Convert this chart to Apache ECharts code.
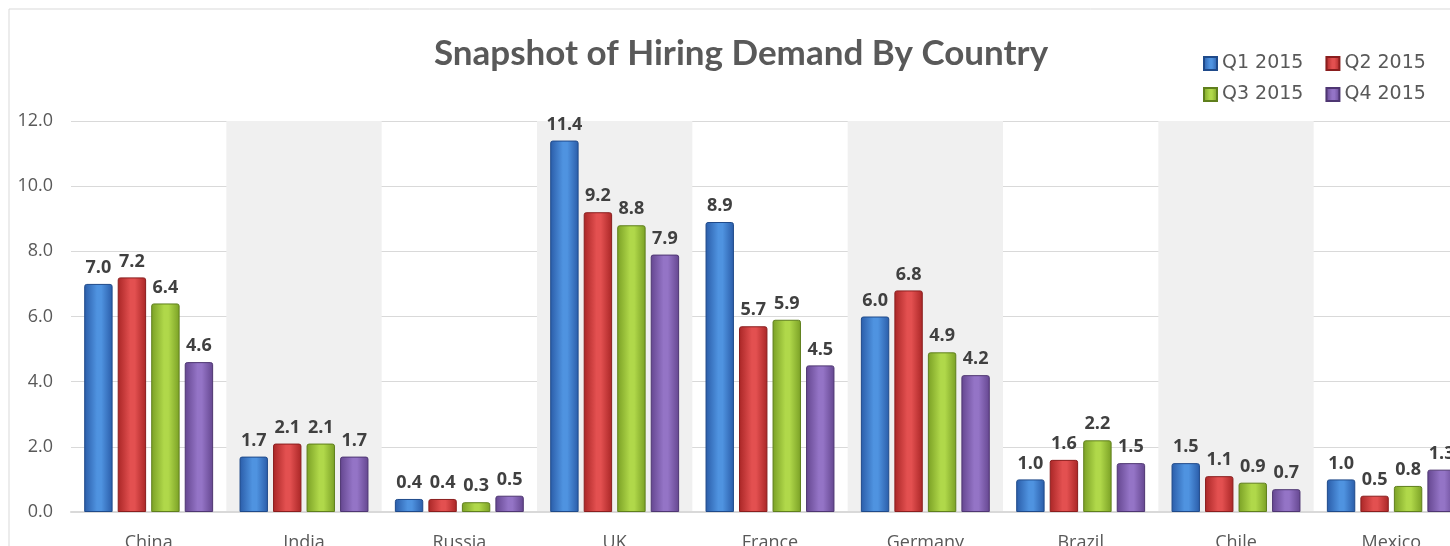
<!DOCTYPE html>
<html>
<head>
<meta charset="utf-8">
<script src="https://cdn.jsdelivr.net/npm/echarts@6/dist/echarts.min.js"></script>
<style>
html, body { margin: 0; padding: 0; background: #fff; }
#chart { width: 1450px; height: 546px; }
</style>
</head>
<body>
<div id="chart"></div>
<script>
var countries = ['China', 'India', 'Russia', 'UK', 'France', 'Germany', 'Brazil', 'Chile', 'Mexico'];
var q1 = [7.0, 1.7, 0.4, 11.4, 8.9, 6.0, 1.0, 1.5, 1.0];
var q2 = [7.2, 2.1, 0.4, 9.2, 5.7, 6.8, 1.6, 1.1, 0.5];
var q3 = [6.4, 2.1, 0.3, 8.8, 5.9, 4.9, 2.2, 0.9, 0.8];
var q4 = [4.6, 1.7, 0.5, 7.9, 4.5, 4.2, 1.5, 0.7, 1.3];
var seriesNames = ['Q1 2015', 'Q2 2015', 'Q3 2015', 'Q4 2015'];

var myChart = echarts.init(document.getElementById('chart'));

// edge / center / border colours for the bevelled bar look
var shades = [
	['#2a5ca8', '#4f93e0', '#1f4a8a'],
	['#a92626', '#e35050', '#8a1e1e'],
	['#7aa025', '#b0d84a', '#5f7f1c'],
	['#64468f', '#9474c6', '#4e3672']
];

function barColor(s) {
	return {
		type: 'linear', x: 0, y: 0, x2: 1, y2: 0,
		colorStops: [
			{offset: 0, color: s[0]},
			{offset: 0.45, color: s[1]},
			{offset: 0.6, color: s[1]},
			{offset: 1, color: s[0]}
		]
	};
}

var allData = [q1, q2, q3, q4];
var series = [];
for (var i = 0; i < 4; i++) {
	series.push({
		name: seriesNames[i],
		type: 'bar',
		data: allData[i],
		barGap: '18%',
		barCategoryGap: '17%',
		itemStyle: {
			color: barColor(shades[i]),
			borderColor: shades[i][2],
			borderWidth: 1,
			borderRadius: [2, 2, 0, 0]
		},
		label: {
			show: true,
			position: 'top',
			distance: 7,
			fontFamily: 'Open Sans',
			fontWeight: 'bold',
			fontSize: 18,
			color: '#404040',
			formatter: function (p) { return p.value.toFixed(1); }
		}
	});
}

var legendText = {fontFamily: 'DejaVu Sans', fontSize: 19, color: '#595959'};

var option = {
	animation: false,
	color: ['#3a78c8', '#cc3a3a', '#94bf36', '#7b5aad'],
	title: {
		text: 'Snapshot of Hiring Demand By Country',
		left: 736,
		top: 31,
		textAlign: 'center',
		textStyle: {
			fontFamily: 'Lato',
			fontWeight: 'bold',
			fontSize: 35,
			color: '#595959'
		}
	},
	legend: [
		{
			data: ['Q1 2015', 'Q2 2015'],
			left: 1198, top: 49,
			itemWidth: 13, itemHeight: 13, itemGap: 22,
			icon: 'rect',
			textStyle: legendText
		},
		{
			data: ['Q3 2015', 'Q4 2015'],
			left: 1198, top: 80,
			itemWidth: 13, itemHeight: 13, itemGap: 22,
			icon: 'rect',
			textStyle: legendText
		}
	],
	graphic: [{
		type: 'rect',
		shape: {x: 9, y: 9, width: 1500, height: 600},
		style: {fill: 'none', stroke: '#d9d9d9', lineWidth: 1},
		silent: true,
		z: -1
	}],
	grid: {
		left: 71,
		top: 121,
		width: 1398,
		height: 391,
		outerBoundsMode: 'none'
	},
	xAxis: {
		type: 'category',
		data: countries,
		axisTick: {show: false},
		axisLine: {lineStyle: {color: '#d9d9d9', width: 2}},
		axisLabel: {
			margin: 22,
			fontFamily: 'Open Sans',
			fontSize: 18,
			color: '#595959'
		},
		splitArea: {
			show: true,
			areaStyle: {color: ['rgba(255,255,255,0)', '#f0f0f0']}
		}
	},
	yAxis: {
		type: 'value',
		min: 0,
		max: 12,
		interval: 2,
		axisLine: {show: false},
		axisTick: {show: false},
		axisLabel: {
			margin: 18,
			fontFamily: 'Open Sans',
			fontSize: 18,
			color: '#595959',
			formatter: function (v) { return v.toFixed(1); }
		},
		splitLine: {lineStyle: {color: '#d9d9d9', width: 1}}
	},
	series: series
};

myChart.setOption(option);
</script>
</body>
</html>
